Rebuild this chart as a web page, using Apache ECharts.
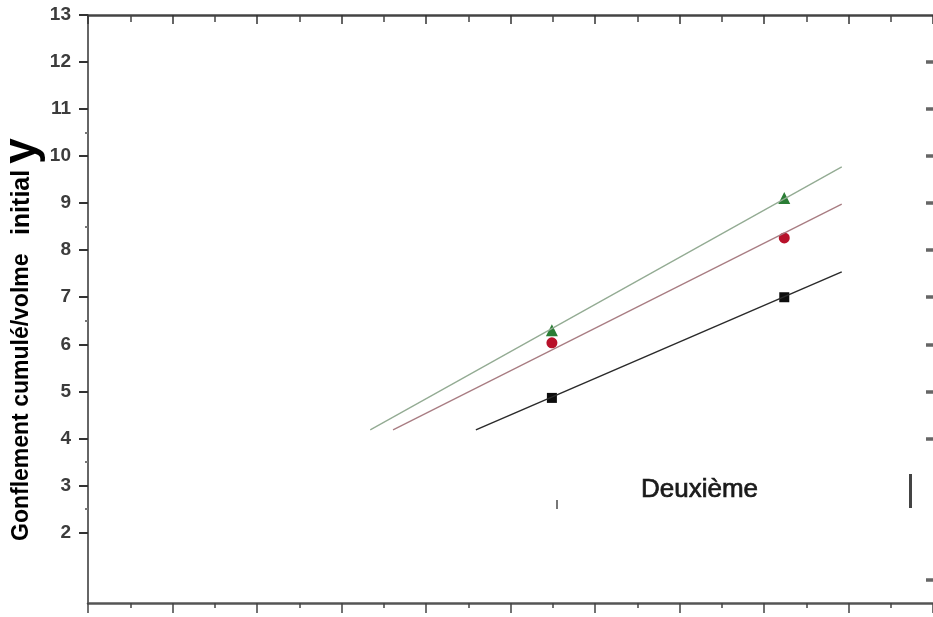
<!DOCTYPE html>
<html>
<head>
<meta charset="utf-8">
<script src="https://cdn.jsdelivr.net/npm/echarts@6/dist/echarts.min.js"></script>
<style>
  html, body { margin: 0; padding: 0; background: #ffffff; }
  #chart { width: 933px; height: 617px; }
</style>
</head>
<body>
<div id="chart"></div>
<script>
// Measured points for the three specimens
const blackPoints = [[5.49, 4.86], [8.24, 7.00]];
const redPoints   = [[5.49, 6.03], [8.24, 8.26]];
const greenPoints = [[5.49, 6.30], [8.24, 9.11]];

// Fitted lines (visible segments)
const blackFit = [[4.59, 4.18], [8.92, 7.54]];
const redFit   = [[3.61, 4.18], [8.92, 8.98]];
const greenFit = [[3.34, 4.18], [8.92, 9.77]];

// Axis ticks and labels
const yLabelValues = [2, 3, 4, 5, 6, 7, 8, 9, 10, 11, 12, 13];
const yTickValues = [2, 3, 4, 5, 6, 7, 8, 9, 10, 11, 12, 13];
const yRightTickValues = [1, 4, 5, 6, 7, 8, 9, 10, 11, 12];
const yMinorTickValues = [10.5, 8.5, 6.5, 3.5, 2.5];

const yTitleMain = 'Gonflement cumulé/volme';
const yTitleBold = 'initial';
const yTitleSymbol = 'y';
const seriesNote = 'Deuxième';

const chart = echarts.init(document.getElementById('chart'));
const FONT = '"Liberation Sans", Arial, sans-serif';

const gridBox = { left: 88, top: 15, width: 845, height: 588, containLabel: false };

const xCommon = {
  type: 'value', min: 0, max: 10, interval: 1, gridIndex: 0,
  axisLabel: { show: false },
  splitLine: { show: false },
  minorTick: { show: true, splitNumber: 2, length: 5, lineStyle: { color: '#444', width: 1.5 } }
};

chart.setOption({
  animation: false,
  backgroundColor: '#ffffff',
  grid: [Object.assign({}, gridBox), Object.assign({}, gridBox)],
  xAxis: [
    Object.assign({}, xCommon, {
      position: 'bottom',
      axisLine: { onZero: false, lineStyle: { color: '#555', width: 2.5 } },
      axisTick: { inside: false, length: 10, lineStyle: { color: '#444', width: 1.5 } }
    }),
    Object.assign({}, xCommon, {
      position: 'top',
      axisLine: { onZero: false, lineStyle: { color: '#444', width: 2.5 } },
      axisTick: { inside: true, length: 9, lineStyle: { color: '#333', width: 1.5 } },
      minorTick: { show: true, splitNumber: 2, length: 7, lineStyle: { color: '#444', width: 1.5 } }
    }),
    {
      // carrier axis for the half-unit ticks grid
      type: 'value', gridIndex: 1, min: 0, max: 10, show: false
    }
  ],
  yAxis: [
    {
      type: 'value', gridIndex: 0, position: 'left', min: 0.5, max: 13,
      axisLine: { show: true, onZero: false, lineStyle: { color: '#333', width: 1.5 } },
      axisTick: { show: true, inside: false, length: 9, customValues: yTickValues,
                  lineStyle: { color: '#333', width: 2 } },
      axisLabel: { show: true, customValues: yLabelValues, margin: 17,
                   fontFamily: FONT, fontSize: 19, fontWeight: 'bold', color: '#3c3c3c' },
      splitLine: { show: false }
    },
    {
      type: 'value', gridIndex: 0, position: 'right', min: 0.5, max: 13,
      axisLine: { show: false, onZero: false },
      axisTick: { show: true, inside: true, length: 7, customValues: yRightTickValues,
                  lineStyle: { color: '#666', width: 3.5 } },
      axisLabel: { show: false },
      splitLine: { show: false }
    },
    {
      type: 'value', gridIndex: 1, position: 'left', min: 0.5, max: 13,
      axisLine: { show: false, onZero: false },
      axisTick: { show: true, inside: false, length: 3, customValues: yMinorTickValues,
                  lineStyle: { color: '#777', width: 2 } },
      axisLabel: { show: false },
      splitLine: { show: false }
    }
  ],
  series: [
    { type: 'line', data: greenFit, symbol: 'none', silent: true,
      lineStyle: { color: '#93ab93', width: 1.3 } },
    { type: 'line', data: redFit, symbol: 'none', silent: true,
      lineStyle: { color: '#a87c82', width: 1.3 } },
    { type: 'line', data: blackFit, symbol: 'none', silent: true,
      lineStyle: { color: '#2a2a2a', width: 1.5 } },
    { type: 'scatter', data: blackPoints, symbol: 'rect', symbolSize: 10,
      itemStyle: { color: '#0d0d0d', opacity: 1 } },
    { type: 'scatter', data: redPoints, symbol: 'circle', symbolSize: 11,
      itemStyle: { color: '#b8112a', opacity: 1 } },
    { type: 'scatter', data: greenPoints, symbol: 'triangle', symbolSize: 12,
      itemStyle: { color: '#2a7d35', opacity: 1 } }
  ],
  graphic: [
    {
      type: 'text', x: 22, y: 541, rotation: Math.PI / 2,
      style: {
        text: '{a|' + yTitleMain + '}{s|   }{b|' + yTitleBold + '}{s| }{c|' + yTitleSymbol + '}',
        align: 'left', verticalAlign: 'middle',
        rich: {
          a: { fontFamily: FONT, fontSize: 23, fontWeight: 'bold', color: '#262626' },
          s: { fontFamily: FONT, fontSize: 22 },
          b: { fontFamily: FONT, fontSize: 25, fontWeight: 'bold', color: '#1e1e1e' },
          c: { fontFamily: FONT, fontSize: 46, fontWeight: 'bold', color: '#1e1e1e' }
        }
      }
    },
    {
      type: 'text', x: 641, y: 490,
      style: {
        text: seriesNote, fontFamily: FONT, fontSize: 26, fontWeight: 'normal',
        fill: '#1a1a1a', stroke: '#1a1a1a', lineWidth: 0.7,
        align: 'left', verticalAlign: 'middle'
      }
    },
    {
      type: 'rect', shape: { x: 909, y: 474, width: 3, height: 34 },
      style: { fill: '#444' }
    },
    {
      type: 'rect', shape: { x: 556, y: 500, width: 2, height: 9 },
      style: { fill: '#777' }
    }
  ]
});
</script>
</body>
</html>
